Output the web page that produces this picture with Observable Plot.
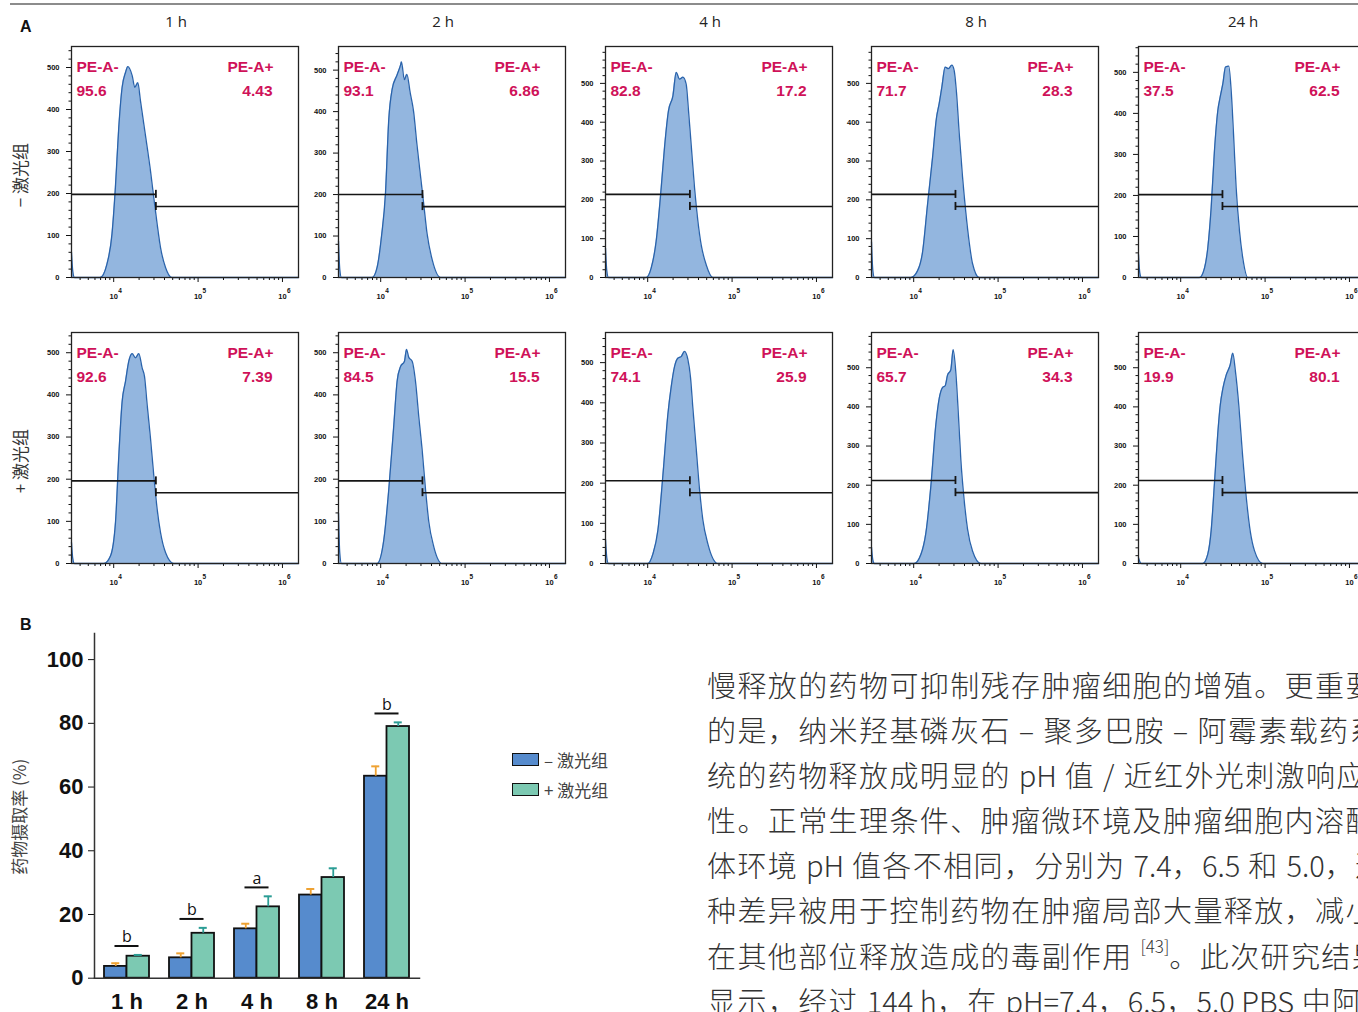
<!DOCTYPE html>
<html><head><meta charset="utf-8">
<script src="https://cdn.jsdelivr.net/npm/d3@7"></script>
<script src="https://cdn.jsdelivr.net/npm/@observablehq/plot@0.6"></script>
<style>
html,body{margin:0;padding:0;background:#fff;}
body{width:1358px;height:1012px;overflow:hidden;position:relative;font-family:"Liberation Sans",Arial,sans-serif;}
#root{position:absolute;left:0;top:0;width:1358px;height:1012px;overflow:hidden;}
.abs{position:absolute;}
.abs svg{display:block;max-width:none !important;}
.ctr{transform:translate(-50%,-50%);white-space:nowrap;}
.rot{transform:translate(-50%,-50%) rotate(-90deg);white-space:nowrap;}
.cjk{font-family:"Noto Sans CJK SC","Noto Sans",sans-serif;}
.para{font-family:"Noto Sans CJK SC",sans-serif;font-weight:300;font-size:29px;letter-spacing:1.4px;line-height:45.1px;color:#333;white-space:nowrap;}
.para div{height:45.1px;}
.para .lat{letter-spacing:0;}
.para sup{font-size:17px;line-height:0;position:relative;top:-4px;vertical-align:super;letter-spacing:0;}
.sw{position:absolute;width:27px;height:13px;box-sizing:border-box;border:1.6px solid #111;}
</style></head><body><div id="root"></div>
<script>
// ---------- DATA ----------
const times = ["1 h", "2 h", "4 h", "8 h", "24 h"];
const rowLabels = ["\u2212 激光组", "+ 激光组"];

// gated percentages (PE-A- / PE-A+)
const peNegMinus = ["95.6", "93.1", "82.8", "71.7", "37.5"];
const pePosMinus = ["4.43", "6.86", "17.2", "28.3", "62.5"];
const peNegPlus  = ["92.6", "84.5", "74.1", "65.7", "19.9"];
const pePosPlus  = ["7.39", "15.5", "25.9", "34.3", "80.1"];

// count-axis maxima of each histogram
const yMaxMinus = [550, 557, 595, 595, 563];
const yMaxPlus  = [548, 548, 575, 590, 590];

// gate boundary (log10 PE-A) and gate line levels (counts)
const gateLog = [4.50, 4.495, 4.50, 4.495, 4.495];
const gateHighMinus = [198, 200, 214, 214, 202];
const gateLowMinus  = [169, 171, 183, 183, 173];
const gateHighPlus  = [196, 196, 206, 212, 212];
const gateLowPlus   = [168, 168, 176, 181, 181];

// histograms: [log10 PE-A intensity, count]
const histMinus1h = [[3.5,60],[3.515,15],[3.535,0],[3.84,0],[3.92,32],[3.98,104],[4.02,214],[4.06,357],[4.10,453],[4.14,488],[4.167,502],[4.22,480],[4.25,453],[4.286,464],[4.317,421],[4.357,365],[4.397,310],[4.436,254],[4.475,190],[4.515,127],[4.555,71],[4.614,24],[4.69,0],[6.19,0]];
const histMinus2h = [[3.5,88],[3.515,20],[3.535,0],[3.90,0],[3.958,25],[4.01,100],[4.057,204],[4.096,382],[4.136,454],[4.195,489],[4.235,512],[4.246,520],[4.28,477],[4.31,490],[4.35,445],[4.39,400],[4.43,320],[4.47,248],[4.51,177],[4.55,105],[4.61,43],[4.71,0],[6.19,0]];
const histMinus4h = [[3.5,76],[3.515,18],[3.535,0],[3.982,0],[4.041,24],[4.10,93],[4.16,231],[4.199,334],[4.246,429],[4.299,468],[4.338,528],[4.377,511],[4.417,516],[4.456,498],[4.484,429],[4.515,343],[4.555,231],[4.595,145],[4.634,84],[4.693,33],[4.772,0],[6.19,0]];
const histMinus8h = [[3.5,92],[3.515,20],[3.535,0],[3.967,0],[4.045,17],[4.104,64],[4.163,186],[4.223,308],[4.27,411],[4.302,448],[4.334,491],[4.373,542],[4.412,538],[4.452,547],[4.48,533],[4.507,477],[4.539,373],[4.578,261],[4.618,167],[4.657,92],[4.697,36],[4.776,0],[6.19,0]];
const histMinus24h = [[3.5,56],[3.515,12],[3.535,0],[4.223,0],[4.282,23],[4.321,72],[4.361,170],[4.40,309],[4.44,407],[4.468,440],[4.5,473],[4.531,513],[4.57,515],[4.598,456],[4.626,350],[4.657,219],[4.697,113],[4.736,47],[4.795,0],[6.19,0]];
const histPlus1h = [[3.5,50],[3.515,12],[3.535,0],[3.883,0],[3.962,18],[4.021,97],[4.061,257],[4.10,384],[4.14,432],[4.179,480],[4.219,498],[4.258,488],[4.298,498],[4.337,464],[4.365,444],[4.397,376],[4.436,297],[4.475,209],[4.515,129],[4.555,73],[4.614,26],[4.712,0],[6.19,0]];
const histPlus2h = [[3.5,120],[3.515,25],[3.535,0],[3.958,0],[4.037,56],[4.096,176],[4.156,330],[4.195,433],[4.235,467],[4.282,480],[4.306,508],[4.333,489],[4.373,480],[4.412,433],[4.452,347],[4.491,270],[4.531,176],[4.57,99],[4.63,39],[4.728,0],[6.19,0]];
const histPlus4h = [[3.5,60],[3.515,15],[3.535,0],[4.002,0],[4.062,24],[4.121,83],[4.18,219],[4.239,371],[4.278,439],[4.318,490],[4.357,511],[4.397,515],[4.436,528],[4.476,508],[4.507,464],[4.535,388],[4.575,286],[4.614,185],[4.654,108],[4.713,49],[4.832,0],[6.19,0]];
const histPlus8h = [[3.5,42],[3.515,10],[3.535,0],[4.006,0],[4.085,23],[4.145,79],[4.204,199],[4.263,356],[4.302,421],[4.341,449],[4.373,454],[4.401,481],[4.44,495],[4.468,546],[4.5,486],[4.531,375],[4.559,264],[4.598,162],[4.638,88],[4.697,32],[4.796,0],[6.19,0]];
const histPlus24h = [[3.5,15],[3.515,5],[3.535,0],[4.262,0],[4.321,24],[4.361,84],[4.40,205],[4.44,334],[4.468,403],[4.5,447],[4.539,481],[4.586,507],[4.617,537],[4.649,490],[4.689,403],[4.728,291],[4.776,171],[4.823,84],[4.874,33],[4.973,0],[6.19,0]];

// panel B: drug uptake (%)
const barTimes = ["1 h", "2 h", "4 h", "8 h", "24 h"];
const uptakeMinus    = [3.7, 6.4, 15.5, 26.1, 63.4];
const uptakeMinusErr = [1.0, 1.4, 1.6, 1.9, 3.1];
const uptakePlus     = [6.9, 14.1, 22.4, 31.6, 79.0];
const uptakePlusErr  = [0.4, 1.7, 3.3, 2.9, 1.3];
const sigLetters     = ["b", "b", "a", "", "b"];
const uptakeTicks    = [0, 20, 40, 60, 80, 100];
const countTicks     = [0, 100, 200, 300, 400, 500];
const decades        = [4, 5, 6];

const paraLines = [
  "慢释放的药物可抑制残存肿瘤细胞的增殖。更重要",
  "的是，纳米羟基磷灰石 – 聚多巴胺 – 阿霉素载药系",
  "统的药物释放成明显的 <span class='lat'>pH</span> 值 / 近红外光刺激响应",
  "性。正常生理条件、肿瘤微环境及肿瘤细胞内溶酶",
  "体环境 <span class='lat'>pH</span> 值各不相同，分别为 <span class='lat'>7.4</span>，<span class='lat'>6.5</span> 和 <span class='lat'>5.0</span>，这",
  "种差异被用于控制药物在肿瘤局部大量释放，减小",
  "在其他部位释放造成的毒副作用 <sup>[43]</sup>。此次研究结果",
  "显示，经过 <span class='lat'>144 h</span>，在 <span class='lat'>pH=7.4</span>，<span class='lat'>6.5</span>，<span class='lat'>5.0 PBS</span> 中阿霉"
];

// ---------- LAYOUT ----------
const root = document.getElementById("root");
function addDiv(html, cls, left, top, style) {
  const d = document.createElement("div");
  d.className = "abs " + (cls || "");
  d.style.left = left + "px"; d.style.top = top + "px";
  if (style) Object.assign(d.style, style);
  d.innerHTML = html; root.appendChild(d); return d;
}
function place(el, left, top, w, h) {
  const d = document.createElement("div");
  d.className = "abs"; d.style.left = left + "px"; d.style.top = top + "px";
  d.style.width = w + "px"; d.style.height = h + "px";
  d.appendChild(el); root.appendChild(d); return d;
}

// top rule
addDiv("", "", 10, 3, {width: "1348px", height: "2px", background: "#8c8c8c"});
addDiv("A", "", 20, 18, {fontWeight: "bold", fontSize: "16px", color: "#111"});
addDiv("B", "", 20, 616, {fontWeight: "bold", fontSize: "16px", color: "#111"});

const FRAME_W = 227, FRAME_H = 231;
const ML = 40, MR = 6, MT = 6, MB = 30;
const xDomain = [3.5, 6.19];
const colLefts = [71, 338, 605, 871, 1138];
const rowTops = [46, 332];
const minorX = [];
for (let k = 3; k <= 6; k++) for (let m = 2; m <= 9; m++) {
  const v = k + Math.log10(m);
  if (v > xDomain[0] && v < xDomain[1]) minorX.push(v);
}
const PINK = "#cf1259";
const FONT = "Liberation Sans, Arial, sans-serif";

function histPlot(data, ymax, gate, gHigh, gLow, negVal, posVal) {
  const cap = 4 * ymax / FRAME_H;
  const minorY = d3.range(20, ymax, 20).filter(v => v % 100 !== 0);
  const gates = [{x1: xDomain[0], x2: gate, y: gHigh}, {x1: gate, x2: xDomain[1], y: gLow}];
  const caps = [{x: gate, y1: gHigh - cap, y2: gHigh + cap}, {x: gate, y1: gLow - cap, y2: gLow + cap}];
  const lbl = {fill: PINK, fontWeight: "bold", fontSize: 15.5, lineAnchor: "middle"};
  return Plot.plot({
    width: FRAME_W + ML + MR, height: FRAME_H + MT + MB,
    marginLeft: ML, marginRight: MR, marginTop: MT, marginBottom: MB,
    x: {type: "linear", domain: xDomain},
    y: {type: "linear", domain: [0, ymax]},
    style: {background: "transparent", fontFamily: FONT, overflow: "visible", color: "#111"},
    marks: [
      Plot.areaY(data, {x: d => d[0], y: d => d[1], fill: "#93b6df", curve: "monotone-x"}),
      Plot.lineY(data, {x: d => d[0], y: d => d[1], stroke: "#2a63ab", strokeWidth: 1.3, curve: "monotone-x"}),
      Plot.ruleY(gates, {x1: "x1", x2: "x2", y: "y", stroke: "#151515", strokeWidth: 1.6}),
      Plot.ruleX(caps, {x: "x", y1: "y1", y2: "y2", stroke: "#151515", strokeWidth: 1.8}),
      Plot.axisY({ticks: countTicks, tickSize: 5, tickPadding: 7, fontSize: 7.5, fontWeight: "bold", label: null, tickFormat: d => String(d)}),
      Plot.axisY({ticks: minorY, tickSize: 2.5, label: null, tickFormat: () => ""}),
      Plot.axisX({ticks: decades, tickSize: 5, label: null, tickFormat: () => ""}),
      Plot.axisX({ticks: minorX, tickSize: 3, label: null, tickFormat: () => ""}),
      Plot.text(decades, {x: d => d, frameAnchor: "bottom", dy: 19, text: () => "10", fontSize: 7.5, fontWeight: "bold", lineAnchor: "middle"}),
      Plot.text(decades, {x: d => d, frameAnchor: "bottom", dx: 4.5, dy: 13.5, text: d => String(d), textAnchor: "start", fontSize: 6.5, fontWeight: "bold", lineAnchor: "middle"}),
      Plot.frame({stroke: "#222", strokeWidth: 1.3}),
      Plot.text(["PE-A-"], {text: d => d, frameAnchor: "top-left", dx: 5, dy: 21, textAnchor: "start", ...lbl}),
      Plot.text([negVal], {text: d => d, frameAnchor: "top-left", dx: 5, dy: 45, textAnchor: "start", ...lbl}),
      Plot.text(["PE-A+"], {text: d => d, frameAnchor: "top-right", dx: -25, dy: 21, textAnchor: "end", ...lbl}),
      Plot.text([posVal], {text: d => d, frameAnchor: "top-right", dx: -26, dy: 45, textAnchor: "end", ...lbl})
    ]
  });
}

const histMinus = [histMinus1h, histMinus2h, histMinus4h, histMinus8h, histMinus24h];
const histPlus = [histPlus1h, histPlus2h, histPlus4h, histPlus8h, histPlus24h];
times.forEach((t, i) => {
  addDiv(t, "ctr", colLefts[i] + 105, 21, {fontFamily: "Open Sans, Liberation Sans, sans-serif", fontSize: "15px", color: "#222"});
  const p1 = histPlot(histMinus[i], yMaxMinus[i], gateLog[i], gateHighMinus[i], gateLowMinus[i], peNegMinus[i], pePosMinus[i]);
  place(p1, colLefts[i] - ML, rowTops[0] - MT, FRAME_W + ML + MR, FRAME_H + MT + MB);
  const p2 = histPlot(histPlus[i], yMaxPlus[i], gateLog[i], gateHighPlus[i], gateLowPlus[i], peNegPlus[i], pePosPlus[i]);
  place(p2, colLefts[i] - ML, rowTops[1] - MT, FRAME_W + ML + MR, FRAME_H + MT + MB);
});
addDiv(rowLabels[0], "rot cjk", 19, 175, {fontSize: "17px", color: "#333"});
addDiv(rowLabels[1], "rot cjk", 19, 461, {fontSize: "17px", color: "#333"});

// ---------- PANEL B ----------
const BLUE = "#568bcd", GREEN = "#7cc9b2", ORANGE = "#eea233", TEAL = "#2b9d95";
const barRows = barTimes.map((t, i) => ({time: t, minus: uptakeMinus[i], minusErr: uptakeMinusErr[i], plus: uptakePlus[i], plusErr: uptakePlusErr[i]}));
const sigRows = barTimes.map((t, i) => ({time: t, letter: sigLetters[i],
  level: Math.max(uptakeMinus[i] + uptakeMinusErr[i], uptakePlus[i] + uptakePlusErr[i]) + 2.8})).filter(d => d.letter);
const PI = 0.315, PO = 0.133;
const BW = 440, BH = 392, BML = 94, BMR = 21, BMT = 13, BMB = 34.3;
const bstep = (BW - BML - BMR) / (barTimes.length - PI + 2 * PO);
const band = bstep * (1 - PI);
const capW = 8, sigW = 24;
const barPlot = Plot.plot({
  width: BW, height: BH, marginLeft: BML, marginRight: BMR, marginTop: BMT, marginBottom: BMB,
  x: {type: "band", domain: barTimes, paddingInner: PI, paddingOuter: PO},
  y: {type: "linear", domain: [0, 108.2]},
  style: {background: "transparent", fontFamily: FONT, overflow: "visible", color: "#111"},
  marks: [
    Plot.barY(barRows, {x: "time", y: "minus", fill: BLUE, stroke: "#111", strokeWidth: 1.8, insetRight: band / 2}),
    Plot.barY(barRows, {x: "time", y: "plus", fill: GREEN, stroke: "#111", strokeWidth: 1.8, insetLeft: band / 2}),
    Plot.ruleX(barRows, {x: "time", y1: "minus", y2: d => d.minus + d.minusErr, dx: -band / 4, stroke: ORANGE, strokeWidth: 1.8}),
    Plot.ruleY(barRows, {x1: "time", x2: "time", y: d => d.minus + d.minusErr, insetLeft: band / 4 - capW / 2, insetRight: band * 3 / 4 - capW / 2, stroke: ORANGE, strokeWidth: 2}),
    Plot.ruleX(barRows, {x: "time", y1: "plus", y2: d => d.plus + d.plusErr, dx: band / 4, stroke: TEAL, strokeWidth: 1.8}),
    Plot.ruleY(barRows, {x1: "time", x2: "time", y: d => d.plus + d.plusErr, insetLeft: band * 3 / 4 - capW / 2, insetRight: band / 4 - capW / 2, stroke: TEAL, strokeWidth: 2}),
    Plot.ruleY(sigRows, {x1: "time", x2: "time", y: "level", insetLeft: (band - sigW) / 2, insetRight: (band - sigW) / 2, stroke: "#111", strokeWidth: 2}),
    Plot.text(sigRows, {x: "time", y: "level", text: "letter", dy: -9, fontSize: 16, lineAnchor: "middle", fontFamily: "Open Sans, Liberation Sans, sans-serif", fill: "#111"}),
    Plot.axisY({ticks: uptakeTicks, tickSize: 6, tickPadding: 5, fontSize: 22, fontWeight: "bold", label: null, tickFormat: d => String(d)}),
    Plot.axisX({tickSize: 0, tickPadding: 15, fontSize: 22, fontWeight: "bold", label: null}),
    Plot.frame({anchor: "left", stroke: "#333", strokeWidth: 1.5}),
    Plot.frame({anchor: "bottom", stroke: "#333", strokeWidth: 1.5}),
    Plot.text(["药物摄取率 (%)"], {text: d => d, frameAnchor: "left", textAnchor: "middle", rotate: -90, dx: -74, dy: 11, fontSize: 17, fill: "#444", fontFamily: "Noto Sans CJK SC, sans-serif", lineAnchor: "middle"})
  ]
});
place(barPlot, 0, 620, BW, BH);

// legend
const legendItems = [{label: "\u2013 激光组", color: BLUE}, {label: "+ 激光组", color: GREEN}];
legendItems.forEach((it, i) => {
  const y = 753 + i * 30;
  addDiv("", "sw", 512, y, {background: it.color});
  addDiv(it.label, "cjk", 544, y + 6, {fontSize: "17px", color: "#444", transform: "translateY(-50%)", whiteSpace: "nowrap"});
});

// paragraph
addDiv(paraLines.map(l => "<div>" + l + "</div>").join(""), "para", 707, 662, {});
</script></body></html>
